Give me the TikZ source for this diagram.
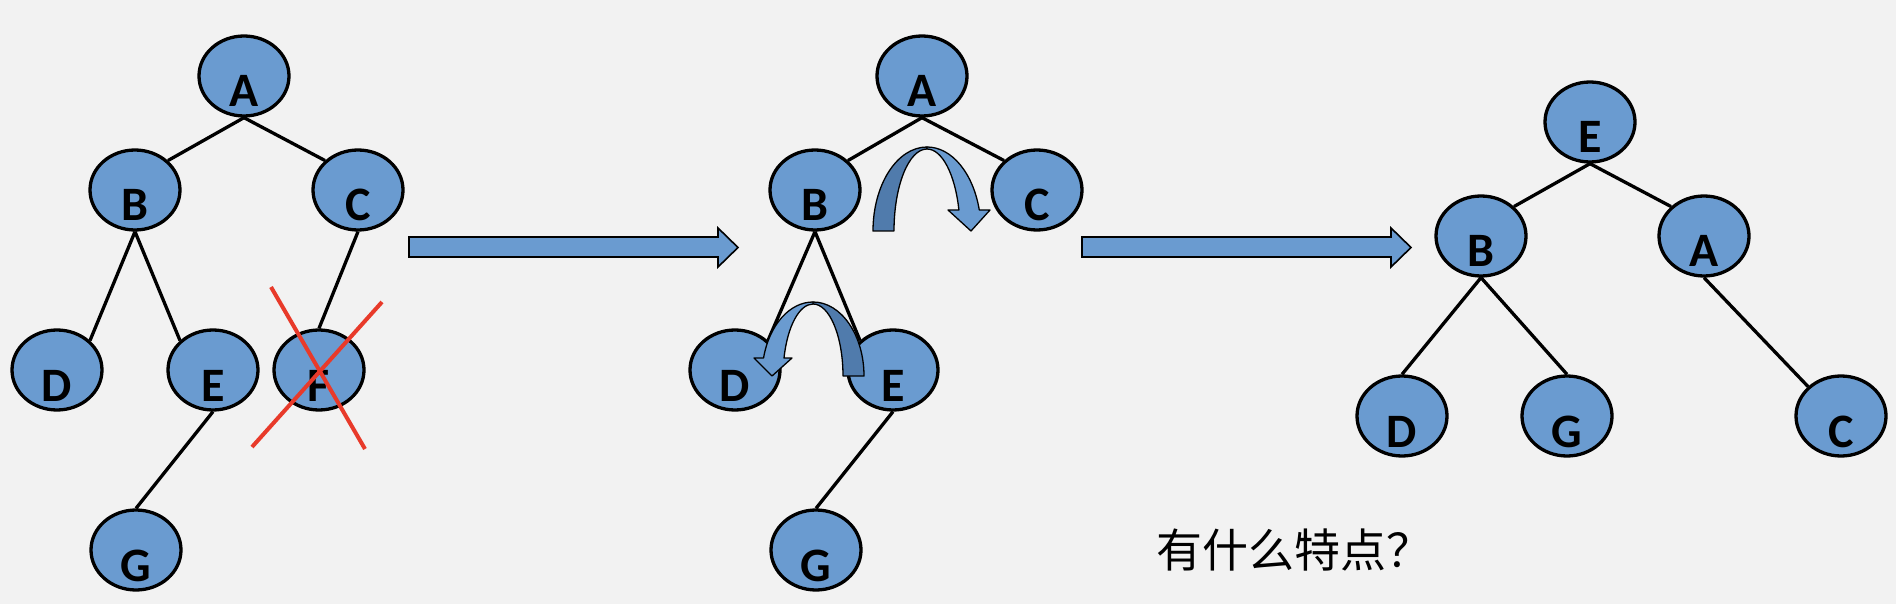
\documentclass[tikz,border=0pt]{standalone}
\usepackage{fontspec}
\setmainfont{Carlito}
\newfontfamily\cjk{Noto Sans CJK SC}
\usetikzlibrary{shapes.geometric}
\definecolor{nodeblue}{RGB}{106,155,208}
\definecolor{backblue}{RGB}{80,123,172}
\definecolor{crossred}{RGB}{232,58,42}
\definecolor{paper}{RGB}{242,242,242}
\newcommand{\nlab}[1]{\raisebox{-31pt}[0pt][0pt]{\bfseries #1}}

\begin{document}
\begin{tikzpicture}[x=1pt,y=1pt,
  tnode/.style={ellipse,draw=black,line width=3.3pt,fill=nodeblue,minimum width=90pt,minimum height=80pt,inner sep=0pt,font=\fontsize{48}{48}\selectfont},
  tedge/.style={line width=3.3pt},
  bigarrow/.style={draw=black,line width=1.6pt,fill=nodeblue},
  turn/.style={draw=black,line width=1.3pt,line join=round}]
\fill[paper] (0,0) rectangle (1896,-604);
\useasboundingbox (0,0) rectangle (1896,-604);
% tree before deleting F
\node[tnode] (a1) at (244,-76) {\nlab{A}};
\node[tnode] (b1) at (135,-190) {\nlab{B}};
\node[tnode] (c1) at (358,-190) {\nlab{C}};
\node[tnode] (d1) at (57,-370) {\nlab{D}};
\node[tnode] (e1) at (213,-370) {\nlab{E}};
\node[tnode] (f1) at (319,-370) {\nlab{F}};
\node[tnode] (g1) at (136,-550) {\nlab{G}};
\draw[tedge] (a1.south) -- (b1.north east);
\draw[tedge] (a1.south) -- (c1.north west);
\draw[tedge] (b1.south) -- (d1.north east);
\draw[tedge] (b1.south) -- (e1.north west);
\draw[tedge] (c1.south) -- (f1.north);
\draw[tedge] (e1.south) -- (g1.north);
\draw[crossred,line width=4pt] (271,-287) -- (365,-449);
\draw[crossred,line width=4pt] (382,-302) -- (252,-447);
% block arrows
\foreach \x in {409,1082}
  \draw[bigarrow] (\x,-237) -- ++(309,0) -- ++(0,9) -- ++(20,-19.5) -- ++(-20,-19.5) -- ++(0,10) -- ++(-309,0) -- cycle;
% tree after deleting F
\node[tnode] (a2) at (922,-76) {\nlab{A}};
\node[tnode] (b2) at (815,-190) {\nlab{B}};
\node[tnode] (c2) at (1037,-190) {\nlab{C}};
\node[tnode] (d2) at (735,-370) {\nlab{D}};
\node[tnode] (e2) at (893,-370) {\nlab{E}};
\node[tnode] (g2) at (816,-550) {\nlab{G}};
\draw[tedge] (a2.south) -- (b2.north east);
\draw[tedge] (a2.south) -- (c2.north west);
\draw[tedge] (b2.south) -- (d2.north east);
\draw[tedge] (b2.south) -- (e2.north west);
\draw[tedge] (e2.south) -- (g2.north);
% turn arrows
\draw[turn,fill=backblue] (873,-231) arc[start angle=180,end angle=90,x radius=54,y radius=84]
  -- (927,-149) arc[start angle=90,end angle=180,x radius=33,y radius=82] -- cycle;
\draw[turn,fill=nodeblue] (927,-147) arc[start angle=90,end angle=14.48,x radius=54,y radius=84]
  -- (990,-210) -- (971,-231) -- (948,-210) -- (958.9,-210)
  arc[start angle=14.84,end angle=90,x radius=33,y radius=82] -- cycle;
\draw[turn,fill=backblue] (864,-376) arc[start angle=0,end angle=90,x radius=51,y radius=74]
  -- (813,-304) arc[start angle=90,end angle=0,x radius=30,y radius=72] -- cycle;
\draw[turn,fill=nodeblue] (813,-302) arc[start angle=90,end angle=165.92,x radius=51,y radius=74]
  -- (754,-358) -- (772,-376) -- (792,-358) -- (784,-358)
  arc[start angle=165.52,end angle=90,x radius=30,y radius=72] -- cycle;
% result tree
\node[tnode] (e3) at (1590,-122) {\nlab{E}};
\node[tnode] (b3) at (1481,-236) {\nlab{B}};
\node[tnode] (a3) at (1704,-236) {\nlab{A}};
\node[tnode] (d3) at (1402,-416) {\nlab{D}};
\node[tnode] (g3) at (1567,-416) {\nlab{G}};
\node[tnode] (c3) at (1841,-416) {\nlab{C}};
\draw[tedge] (e3.south) -- (b3.north east);
\draw[tedge] (e3.south) -- (a3.north west);
\draw[tedge] (b3.south) -- (d3.north);
\draw[tedge] (b3.south) -- (g3.north);
\draw[tedge] (a3.south) -- (c3.north west);
\node[anchor=west,inner sep=0pt,font=\cjk\fontsize{46}{46}\selectfont] (ask) at (1156,-550) {有什么特点？};
\end{tikzpicture}
\end{document}
